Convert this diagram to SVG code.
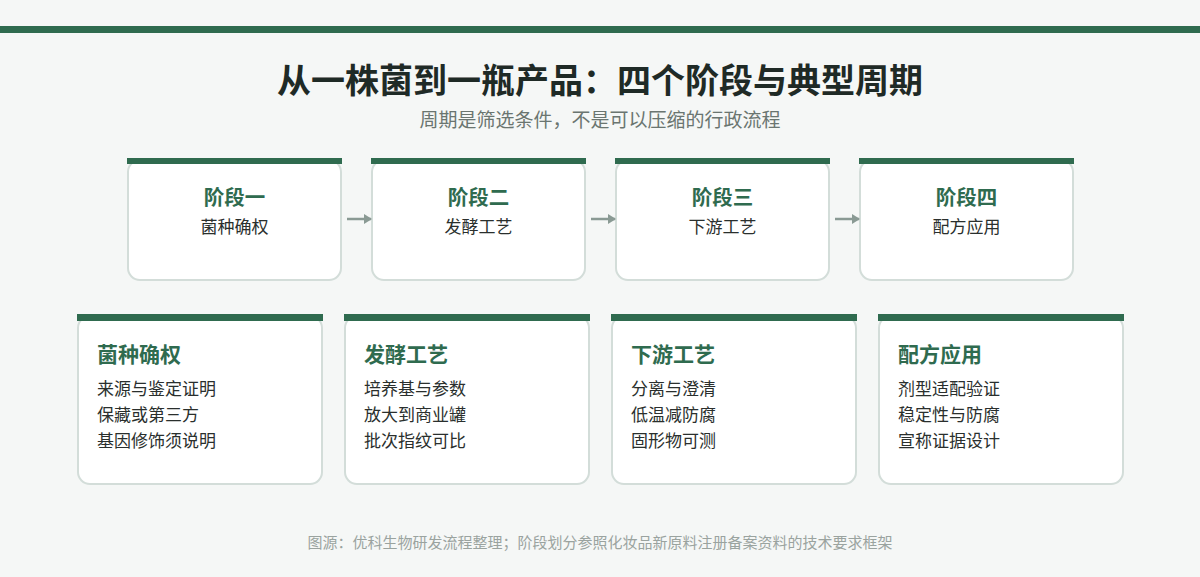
<svg xmlns="http://www.w3.org/2000/svg" width="1200" height="577" viewBox="0 0 1200 577">
<defs>
<style>
.bg{fill:#f5f7f6}
.card{fill:#ffffff;stroke:#d3ddd9;stroke-width:2}
.bar{fill:#2f6b4f}
.title{font-family:"Noto Sans CJK SC","Noto Sans",sans-serif;font-weight:700;font-size:34px;fill:#1f2a26}
.sub{font-family:"Noto Sans CJK SC","Noto Sans",sans-serif;font-size:19px;fill:#6a7570}
.st{font-family:"Noto Sans CJK SC","Noto Sans",sans-serif;font-weight:700;font-size:20.5px;fill:#2f6b4f}
.sn{font-family:"Noto Sans CJK SC","Noto Sans",sans-serif;font-size:17px;fill:#2a2f2d}
.dh{font-family:"Noto Sans CJK SC","Noto Sans",sans-serif;font-weight:700;font-size:21px;fill:#2f6b4f}
.di{font-family:"Noto Sans CJK SC","Noto Sans",sans-serif;font-size:17px;fill:#2a2f2d}
.foot{font-family:"Noto Sans CJK SC","Noto Sans",sans-serif;font-size:15px;fill:#9aa39f}
.arr{stroke:#8a9a94;stroke-width:2.5;fill:none}
</style>
<marker id="ah" markerWidth="8" markerHeight="10" refX="7" refY="5" orient="auto" markerUnits="userSpaceOnUse">
<path d="M0,0 L8,5 L0,10 Z" fill="#8a9a94"/>
</marker>
</defs>
<rect class="bg" x="0" y="0" width="1200" height="577"/>
<rect class="bar" x="0" y="26" width="1200" height="7"/>
<text class="title" x="600" y="93" text-anchor="middle">从一株菌到一瓶产品：四个阶段与典型周期</text>
<text class="sub" x="600" y="127" text-anchor="middle">周期是筛选条件，不是可以压缩的行政流程</text>

<g id="stage1">
<rect class="card" x="128" y="160" width="213" height="120" rx="12"/>
<rect class="bar" x="127" y="158" width="215" height="6"/>
<text class="st" x="234.5" y="205" text-anchor="middle">阶段一</text>
<text class="sn" x="234.5" y="233" text-anchor="middle">菌种确权</text>
</g>
<g id="stage2">
<rect class="card" x="372" y="160" width="213" height="120" rx="12"/>
<rect class="bar" x="371" y="158" width="215" height="6"/>
<text class="st" x="478.5" y="205" text-anchor="middle">阶段二</text>
<text class="sn" x="478.5" y="233" text-anchor="middle">发酵工艺</text>
</g>
<g id="stage3">
<rect class="card" x="616" y="160" width="213" height="120" rx="12"/>
<rect class="bar" x="615" y="158" width="215" height="6"/>
<text class="st" x="722.5" y="205" text-anchor="middle">阶段三</text>
<text class="sn" x="722.5" y="233" text-anchor="middle">下游工艺</text>
</g>
<g id="stage4">
<rect class="card" x="860" y="160" width="213" height="120" rx="12"/>
<rect class="bar" x="859" y="158" width="215" height="6"/>
<text class="st" x="966.5" y="205" text-anchor="middle">阶段四</text>
<text class="sn" x="966.5" y="233" text-anchor="middle">配方应用</text>
</g>

<g id="connectors">
<line class="arr" x1="347" y1="219" x2="371" y2="219" marker-end="url(#ah)"/>
<line class="arr" x1="591" y1="219" x2="615" y2="219" marker-end="url(#ah)"/>
<line class="arr" x1="835" y1="219" x2="859" y2="219" marker-end="url(#ah)"/>
</g>

<g id="detail1">
<rect class="card" x="78" y="316" width="244" height="168" rx="12"/>
<rect class="bar" x="77" y="314" width="246" height="7"/>
<text class="dh" x="97" y="362">菌种确权</text>
<text class="di" x="97" y="395">来源与鉴定证明</text>
<text class="di" x="97" y="421">保藏或第三方</text>
<text class="di" x="97" y="447">基因修饰须说明</text>
</g>
<g id="detail2">
<rect class="card" x="345" y="316" width="244" height="168" rx="12"/>
<rect class="bar" x="344" y="314" width="246" height="7"/>
<text class="dh" x="364" y="362">发酵工艺</text>
<text class="di" x="364" y="395">培养基与参数</text>
<text class="di" x="364" y="421">放大到商业罐</text>
<text class="di" x="364" y="447">批次指纹可比</text>
</g>
<g id="detail3">
<rect class="card" x="612" y="316" width="244" height="168" rx="12"/>
<rect class="bar" x="611" y="314" width="246" height="7"/>
<text class="dh" x="631" y="362">下游工艺</text>
<text class="di" x="631" y="395">分离与澄清</text>
<text class="di" x="631" y="421">低温减防腐</text>
<text class="di" x="631" y="447">固形物可测</text>
</g>
<g id="detail4">
<rect class="card" x="879" y="316" width="244" height="168" rx="12"/>
<rect class="bar" x="878" y="314" width="246" height="7"/>
<text class="dh" x="898" y="362">配方应用</text>
<text class="di" x="898" y="395">剂型适配验证</text>
<text class="di" x="898" y="421">稳定性与防腐</text>
<text class="di" x="898" y="447">宣称证据设计</text>
</g>

<text class="foot" x="600" y="548" text-anchor="middle">图源：优科生物研发流程整理；阶段划分参照化妆品新原料注册备案资料的技术要求框架</text>
</svg>
